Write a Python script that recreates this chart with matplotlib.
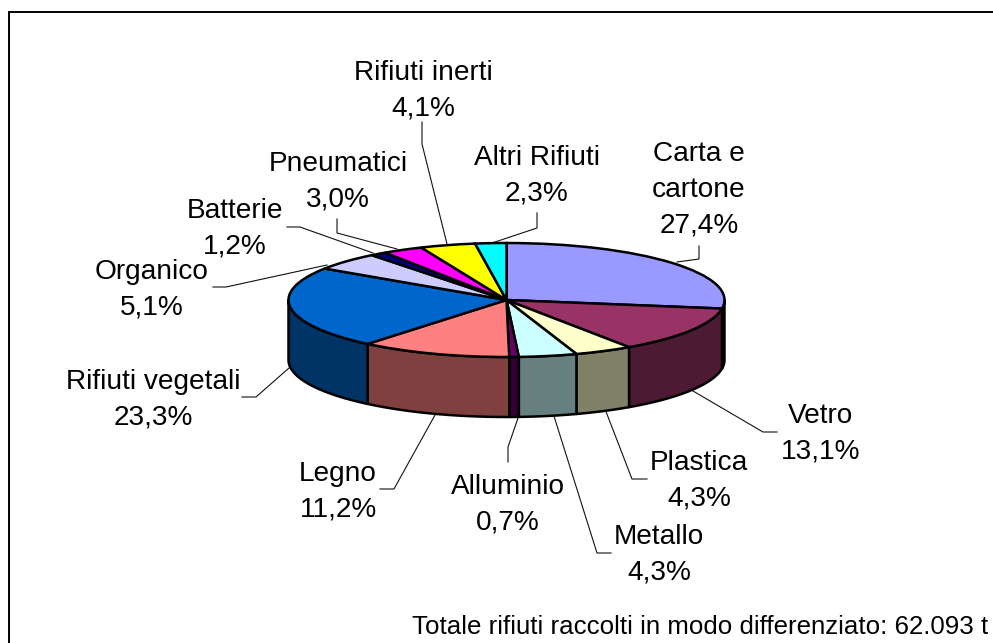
import numpy as np
import matplotlib
matplotlib.use('Agg')
import matplotlib.pyplot as plt
from matplotlib.patches import Polygon
from matplotlib.transforms import Affine2D

W, H = 993, 643
labels = ['Carta e\ncartone', 'Vetro', 'Plastica', 'Metallo', 'Alluminio', 'Legno',
          'Rifiuti vegetali', 'Organico', 'Batterie', 'Pneumatici', 'Rifiuti inerti', 'Altri Rifiuti']
values = [27.4, 13.1, 4.3, 4.3, 0.7, 11.2, 23.3, 5.1, 1.2, 3.0, 4.1, 2.3]
top_colors = ['#9999FF', '#993366', '#FFFFCC', '#CCFFFF', '#660066', '#FF8080',
              '#0066CC', '#CCCCFF', '#000080', '#FF00FF', '#FFFF00', '#00FFFF']
side_colors = ['#4D4D80', '#4D1A33', '#808066', '#668080', '#330033', '#804040',
               '#003366', '#666680', '#000040', '#800080', '#808000', '#008080']
note = 'Totale rifiuti raccolti in modo differenziato: 62.093 t'

# label centre (pixels), leader line path (pixels)
label_pos = [(699, 190), (821, 434), (699, 481), (659, 555), (508, 505), (338, 492),
             (153, 400), (152, 290), (235, 229), (338, 182), (423, 91), (537, 176)]
leaders = [
    [(699, 246), (699, 259), (677, 262)],
    [(777, 432), (763, 432), (693, 391)],
    [(647, 479), (632, 479), (605, 409)],
    [(611, 553), (597, 553), (553, 413)],
    [(508, 462), (508, 447), (518, 418)],
    [(380, 489), (394, 489), (435, 415)],
    [(242, 397), (256, 397), (289, 368)],
    [(213, 287), (226, 287), (327, 265)],
    [(287, 227), (300, 227), (373, 253)],
    [(337, 219), (337, 233), (397, 249)],
    [(422, 122), (422, 144), (447, 244)],
    [(537, 213), (537, 228), (492, 243)],
]

cx, cy = 506.5, 300.0
rx, ry, depth = 218.0, 57.0, 60.0
ey = H - cy

fig = plt.figure(figsize=(W / 100, H / 100), dpi=100)
ax = fig.add_axes([0, 0, 1, 1])

wedges, _ = ax.pie(values, colors=top_colors, startangle=90, counterclock=False, normalize=True,
                   wedgeprops=dict(edgecolor='black', linewidth=1.8, zorder=3))
ax.set_aspect('auto')
ax.set_xlim(0, W)
ax.set_ylim(0, H)
ax.axis('off')

squash = Affine2D().scale(rx, ry).translate(cx, ey) + ax.transData
for w, sc in zip(wedges, side_colors):
    w.set_transform(squash)
    a0, a1 = sorted((w.theta1, w.theta2))
    # visible wall: portion of the rim on the lower half (180..360 degrees)
    for k in (-1, 0, 1):
        lo, hi = max(a0, 180 + 360 * k), min(a1, 360 + 360 * k)
        if hi > lo:
            t = np.radians(np.linspace(lo, hi, 80))
            x = cx + rx * np.cos(t)
            y = ey + ry * np.sin(t)
            pts = np.r_[np.c_[x, y], np.c_[x[::-1], y[::-1] - depth]]
            ax.add_patch(Polygon(pts, closed=True, facecolor=sc, edgecolor='black',
                                 linewidth=1.8, zorder=2, joinstyle='round'))

font = 'Liberation Sans'
for lab, v, (x, y) in zip(labels, values, label_pos):
    txt = f"{lab}\n{v:.1f}%".replace('.', ',')
    ax.text(x, H - y, txt, ha='center', va='center', fontsize=20.2, family=font,
            linespacing=1.48, color='black', zorder=5)
for path in leaders:
    p = np.array(path, float)
    ax.plot(p[:, 0], H - p[:, 1], color='#111111', lw=0.8, zorder=1, solid_joinstyle='miter')
ax.text(412, H - 627, note, ha='left', va='center', fontsize=18.65, family=font, color='black', zorder=5)

# chart frame: only the left and top edges fall inside the picture
fx = [8.5, 8.5, W + 2]
fy = [-2, H - 11.5, H - 11.5]
ax.plot(fx, fy, color='black', lw=1.4, zorder=0, clip_on=True, solid_joinstyle='miter')

fig.savefig('out.png', dpi=100, facecolor='white')
